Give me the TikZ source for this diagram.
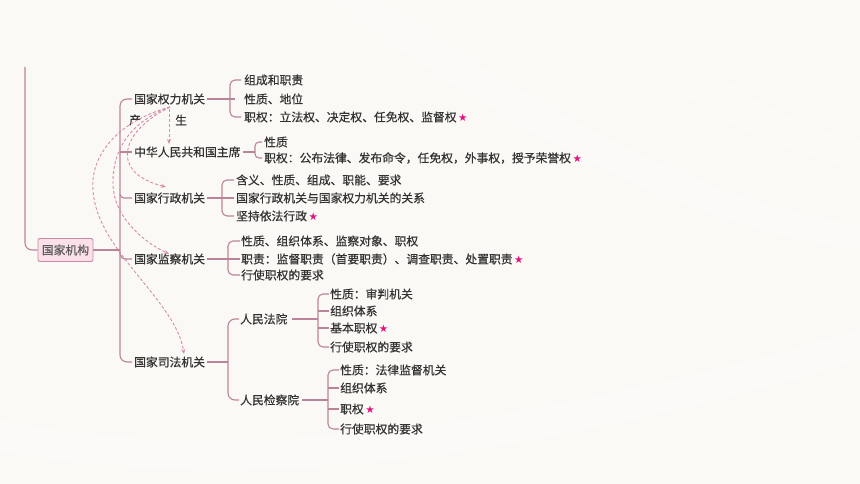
\documentclass[tikz,border=0pt]{standalone}
\usepackage{fontspec}
\setmainfont{Noto Sans CJK SC}[BoldFont=*, BoldFeatures={FakeBold=0.6}]
\newfontfamily\symf{DejaVu Sans}
\usetikzlibrary{arrows.meta}
\definecolor{bgc}{HTML}{FBF9F5}
\definecolor{lc}{HTML}{BB8399}
\definecolor{dc}{HTML}{D58DA9}
\definecolor{txt}{HTML}{333333}
\definecolor{boxf}{HTML}{FBE0EA}
\definecolor{boxd}{HTML}{C88AA2}
\definecolor{starc}{HTML}{E2137E}
\newcommand\fs{\fontsize{11.8}{14}\selectfont\bfseries}
\newcommand\xing{\hspace{1.5pt}{\symf\mdseries\color{starc}\fontsize{10.5}{10}\selectfont ★}}
\tikzset{
  t/.style={anchor=west, inner sep=0pt, text=txt, font=\fs},
  ln/.style={draw=lc, line width=1.1pt},
  brc/.style={ln, rounded corners=5pt},
  da/.style={draw=dc, line width=0.9pt, dash pattern=on 3pt off 2pt, -{Stealth[length=5pt,width=4pt]}},
  rootbox/.style={draw=boxd, fill=boxf, rounded corners=2pt, minimum width=55pt, minimum height=23pt, inner sep=0pt, line width=0.9pt, text=txt!80, font=\fs},
}
\begin{document}
\begin{tikzpicture}[x=1pt,y=-1pt]
\useasboundingbox (0,0) rectangle (860,484);
\fill[bgc] (0,0) rectangle (860,484);
% subtle background swooshes
\fill[white, opacity=0.3] (330,0) .. controls (520,140) and (700,230) .. (860,250) -- (860,225) .. controls (710,205) and (540,110) .. (380,0) -- cycle;
\fill[white, opacity=0.25] (560,0) .. controls (660,90) and (760,150) .. (860,170) -- (860,140) .. controls (770,120) and (690,60) .. (620,0) -- cycle;
\fill[white, opacity=0.3] (0,420) .. controls (250,470) and (550,420) .. (860,330) -- (860,360) .. controls (560,450) and (260,500) .. (0,450) -- cycle;

% root
\node[rootbox] (root) at (65.5,250) {国家机构};
\coordinate (lefttop) at (25,67);
\draw[ln, rounded corners=7pt] (lefttop) -- (25,250) -- (root.west);

% level 1
\node[t] (n1) at (134,99) {国家权力机关};
\node[t] (n2) at (134,152) {中华人民共和国主席};
\node[t] (n3) at (134,198) {国家行政机关};
\node[t] (n4) at (134,259) {国家监察机关};
\node[t] (n5) at (134,362) {国家司法机关};
\node[t] (chan) at (129,120) {产};
\node[t] (sheng) at (175,120) {生};

\coordinate (tk) at (120,250);
\draw[ln] (root.east) -- (tk);
\draw[ln, rounded corners=7pt] ([xshift=-2pt]n1.west) -- (120,99) -- (120,362) -- ([xshift=-2pt]n5.west);
\draw[ln] (120,152) -- ([xshift=-2pt]n2.west);
\draw[ln, rounded corners=3pt] (120,194) -- (121,198) -- ([xshift=-2pt]n3.west);
\draw[ln, rounded corners=4pt] (120,252) -- (121,259) -- ([xshift=-2pt]n4.west);

% branch 1
\node[t] (a1) at (244,80) {组成和职责};
\node[t] (a2) at (244,99) {性质、地位};
\node[t] (a3) at (244,117) {职权：立法权、决定权、任免权、监督权\xing};
\draw[ln] ([xshift=2pt]n1.east) -- (235,99);
\draw[brc] ([xshift=-3pt]a1.west) -- (230,80) -- (230,117) -- ([xshift=-3pt]a3.west);

% branch 2
\node[t] (b1) at (264,142) {性质};
\node[t] (b2) at (264,158) {职权：公布法律、发布命令，任免权，外事权，授予荣誉权\xing};
\draw[ln] ([xshift=2pt]n2.east) -- (255,152);
\draw[ln, rounded corners=4pt] ([xshift=-2pt]b1.west) -- (255,142) -- (255,158) -- ([xshift=-2pt]b2.west);

% branch 3
\node[t] (c1) at (236,180) {含义、性质、组成、职能、要求};
\node[t] (c2) at (236,198) {国家行政机关与国家权力机关的关系};
\node[t] (c3) at (236,216) {坚持依法行政\xing};
\draw[ln] ([xshift=2pt]n3.east) -- ([xshift=-2pt]c2.west);
\draw[brc] ([xshift=-2pt]c1.west) -- (222,180) -- (222,216) -- ([xshift=-2pt]c3.west);

% branch 4
\node[t] (d1) at (241,241) {性质、组织体系、监察对象、职权};
\node[t] (d2) at (241,259) {职责：监督职责（首要职责）、调查职责、处置职责\xing};
\node[t] (d3) at (241,275) {行使职权的要求};
\draw[ln] ([xshift=2pt]n4.east) -- ([xshift=-1pt]d2.west);
\draw[brc] ([xshift=-1pt]d1.west) -- (228,241) -- (228,275) -- ([xshift=-1pt]d3.west);

% branch 5
\node[t] (e1) at (240,319) {人民法院};
\node[t] (e2) at (240,400) {人民检察院};
\draw[ln] ([xshift=2pt]n5.east) -- (228,362);
\draw[ln, rounded corners=7pt] ([xshift=-1pt]e1.west) -- (228,319) -- (228,400) -- ([xshift=-1pt]e2.west);

% court
\node[t] (f1) at (330,294) {性质：审判机关};
\node[t] (f2) at (330,311) {组织体系};
\node[t] (f3) at (330,328) {基本职权\xing};
\node[t] (f4) at (330,347) {行使职权的要求};
\draw[ln] ([xshift=4pt]e1.east) -- (318,319);
\draw[brc] ([xshift=-1pt]f1.west) -- (318,294) -- (318,347) -- ([xshift=-1pt]f4.west);
\draw[ln] (318,311) -- ([xshift=-1pt]f2.west);
\draw[ln] (318,328) -- ([xshift=-1pt]f3.west);

% procuratorate
\node[t] (g1) at (340,370) {性质：法律监督机关};
\node[t] (g2) at (340,388) {组织体系};
\node[t] (g3) at (340,409) {职权\xing};
\node[t] (g4) at (340,429) {行使职权的要求};
\draw[ln] ([xshift=3pt]e2.east) -- (328,400);
\draw[brc] ([xshift=-1pt]g1.west) -- (328,370) -- (328,429) -- ([xshift=-1pt]g4.west);
\draw[ln] (328,388) -- ([xshift=-1pt]g2.west);
\draw[ln] (328,409) -- ([xshift=-1pt]g3.west);

% dashed "产生" arrows
\coordinate (src) at (170,107);
\coordinate (s0) at (169,109);
\coordinate (t1) at (169,144);
\coordinate (t2) at (166,187);
\coordinate (t3) at (169,254);
\coordinate (t4) at (184,354);
\draw[da] (s0) -- (t1);
\draw[da] (src) .. controls (140,122) and (124,142) .. (128,160) .. controls (131,175) and (150,183) .. (t2);
\draw[da] (src) .. controls (130,122) and (112,150) .. (113,185) .. controls (114,215) and (140,240) .. (t3);
\draw[da] (src) .. controls (115,122) and (90,158) .. (93,190) .. controls (96,250) and (176,300) .. (t4);
\end{tikzpicture}
\end{document}
